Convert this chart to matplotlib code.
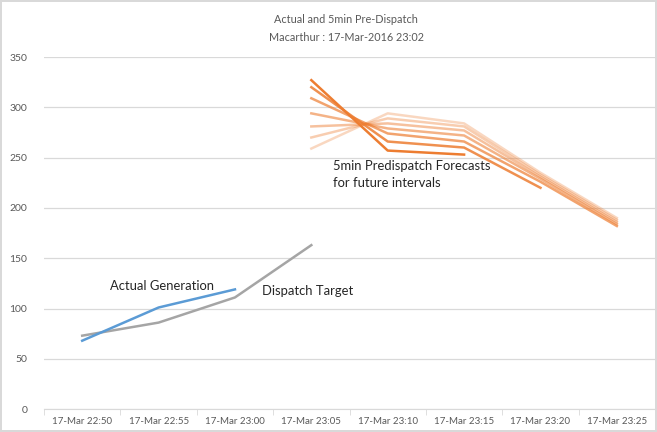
import numpy as np
import matplotlib
matplotlib.use("Agg")
import matplotlib.pyplot as plt

plt.rcParams['font.family'] = ['Lato', 'DejaVu Sans']

intervals = ["17-Mar 22:50", "17-Mar 22:55", "17-Mar 23:00", "17-Mar 23:05",
             "17-Mar 23:10", "17-Mar 23:15", "17-Mar 23:20", "17-Mar 23:25"]

actual = [68, 101, 119]
dispatch = [73, 86, 111, 163]

# predispatch runs, all starting at 23:05 (darkest first)
forecasts = [
    [327, 257, 253],
    [320, 266, 260, 220],
    [309, 274, 266, 226, 182],
    [294, 279, 272, 229, 184],
    [281, 284, 277, 231, 186],
    [270, 289, 281, 233, 188],
    [259, 294, 284, 235, 190],
]
alphas = [1.0, 0.85, 0.7, 0.58, 0.47, 0.38, 0.3]

fig = plt.figure(figsize=(6.57, 4.32), dpi=100)
fig.patch.set_edgecolor("#d9d9d9")
fig.patch.set_linewidth(1.5)
ax = fig.add_axes([0.067, 0.053, 0.93, 0.815])

x = np.arange(len(intervals))
ax.plot(x[:len(dispatch)], dispatch, color="#a5a5a5", lw=1.8)
ax.plot(x[:len(actual)], actual, color="#5b9bd5", lw=1.8)
for f, a in zip(forecasts[::-1], alphas[::-1]):
    ax.plot(x[3:3 + len(f)], f, color="#ed7d31", lw=1.8, alpha=a)

ax.set_xlim(-0.5, len(intervals) - 0.5)
ax.set_ylim(0, 350)
ax.set_yticks(np.arange(0, 351, 50))
ax.set_xticks(x)
ax.set_xticklabels(intervals)
ax.set_xticks(np.arange(-0.5, len(intervals)), minor=True)
ax.tick_params(axis="x", which="major", length=0, labelsize=7, colors="#595959", pad=6)
ax.tick_params(axis="x", which="minor", length=4, color="#d9d9d9")
ax.tick_params(axis="y", length=0, labelsize=7.5, colors="#595959", pad=12)
ax.grid(axis="y", color="#d9d9d9", lw=0.9)
ax.set_axisbelow(True)
for s in ["top", "right", "left"]:
    ax.spines[s].set_visible(False)
ax.spines["bottom"].set_color("#d9d9d9")

ax.text(0.37, 122, "Actual Generation", fontsize=9.4, color="#262626", va="center")
ax.text(2.36, 117, "Dispatch Target", fontsize=9.4, color="#262626", va="center")
ax.text(3.29, 233.5, "5min Predispatch Forecasts\nfor future intervals", fontsize=9.4,
        color="#262626", va="center", linespacing=1.5)

fig.text(0.527, 0.955, "Actual and 5min Pre-Dispatch", ha="center", va="center",
         fontsize=7.8, color="#595959")
fig.text(0.527, 0.913, "Macarthur : 17-Mar-2016 23:02", ha="center", va="center",
         fontsize=7.8, color="#595959")

fig.savefig("out.png", dpi=100)
